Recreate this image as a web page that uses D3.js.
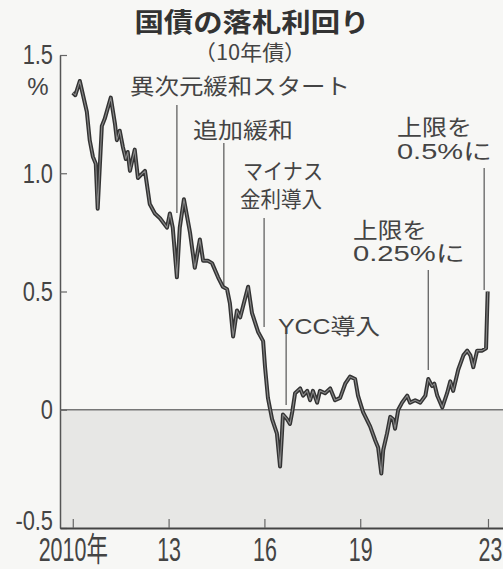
<!DOCTYPE html>
<html lang="ja">
<head>
<meta charset="utf-8">
<script src="https://cdn.jsdelivr.net/npm/d3@7"></script>
<style>
  html, body { margin: 0; padding: 0; background: #f7f7f5; }
  svg { display: block; }
</style>
</head>
<body>
<div id="chart"></div>
<script>
// 国債（10年債）の落札利回り - 読み取り値
const years = [2010.00, 2010.08, 2010.22, 2010.44, 2010.53, 2010.63, 2010.72, 2010.78, 2010.91, 2011.00,
  2011.19, 2011.32, 2011.38, 2011.47, 2011.57, 2011.66, 2011.72, 2011.79, 2011.94, 2012.04,
  2012.26, 2012.41, 2012.57, 2012.73, 2012.95, 2013.04, 2013.13, 2013.26, 2013.35, 2013.48,
  2013.67, 2013.82, 2013.98, 2014.08, 2014.23, 2014.36, 2014.55, 2014.70, 2014.83, 2014.92,
  2015.02, 2015.14, 2015.24, 2015.49, 2015.61, 2015.80, 2015.96, 2016.02, 2016.11, 2016.24,
  2016.39, 2016.49, 2016.55, 2016.58, 2016.71, 2016.80, 2016.87, 2016.96, 2017.12, 2017.21,
  2017.34, 2017.43, 2017.52, 2017.65, 2017.74, 2017.90, 2018.06, 2018.21, 2018.37, 2018.53,
  2018.68, 2018.84, 2018.93, 2019.09, 2019.31, 2019.47, 2019.56, 2019.66, 2019.72, 2019.84,
  2019.94, 2020.03, 2020.09, 2020.19, 2020.31, 2020.47, 2020.56, 2020.72, 2020.88, 2021.04,
  2021.13, 2021.25, 2021.32, 2021.41, 2021.57, 2021.72, 2021.82, 2021.91, 2022.07, 2022.23,
  2022.35, 2022.45, 2022.54, 2022.66, 2022.82, 2022.94, 2022.99];
const yields = [1.34, 1.33, 1.39, 1.26, 1.14, 1.07, 1.04, 0.85, 1.20, 1.23,
  1.32, 1.21, 1.14, 1.18, 1.11, 1.06, 1.09, 1.01, 1.10, 0.98,
  1.01, 0.87, 0.83, 0.81, 0.77, 0.83, 0.77, 0.56, 0.77, 0.89,
  0.75, 0.60, 0.72, 0.63, 0.63, 0.62, 0.56, 0.52, 0.51, 0.45,
  0.31, 0.42, 0.39, 0.52, 0.41, 0.33, 0.29, 0.18, 0.05, -0.04,
  -0.10, -0.24, -0.10, -0.02, -0.04, -0.06, -0.01, 0.07, 0.09, 0.06,
  0.08, 0.04, 0.08, 0.03, 0.08, 0.07, 0.09, 0.04, 0.05, 0.11,
  0.14, 0.13, 0.06, -0.01, -0.07, -0.13, -0.16, -0.27, -0.17, -0.10,
  -0.03, -0.04, -0.08, 0.00, 0.03, 0.06, 0.03, 0.04, 0.03, 0.06,
  0.13, 0.10, 0.11, 0.06, 0.01, 0.07, 0.12, 0.08, 0.17, 0.23,
  0.25, 0.23, 0.18, 0.25, 0.25, 0.26, 0.50];

const yTicks = [-0.5, 0, 0.5, 1.0, 1.5];
const yTickLabels = ['-0.5', '0', '0.5', '1.0', '1.5'];
const xTicks = [2010, 2013, 2016, 2019, 2023];
const xTickLabels = ['2010年', '13', '16', '19', '23'];

// 出来事
const eventNames = [['異次元緩和スタート'], ['追加緩和'], ['マイナス', '金利導入'], ['YCC導入'], ['上限を', '0.25%に'], ['上限を', '0.5%に']];
const eventDates = [2013.26, 2014.73, 2015.99, 2016.68, 2021.13, 2022.88];

// レイアウト（ピクセル）
const W = 503, H = 569;
const plot = { left: 60, right: 503, top: 55, bottom: 528 };
const eventLayout = [
  { y1: 105, y2: 213, tx: [130], ty: [86], tw: [220] },
  { y1: 143, y2: 287, tx: [193], ty: [130], tw: [100] },
  { y1: 218, y2: 327, tx: [243, 240], ty: [171, 199], tw: [80, 82] },
  { y1: 333, y2: 405, tx: [278], ty: [326], tw: [102] },
  { y1: 270, y2: 370, tx: [353, 353], ty: [230, 253], tw: [74, 112] },
  { y1: 168, y2: 290, tx: [397, 397], ty: [127, 151], tw: [75, 95] }
];

const ink = '#444';
const cjk = '"Noto Sans CJK JP", sans-serif';
const latin = '"Liberation Sans", "Noto Sans CJK JP", sans-serif';

const svg = d3.select('#chart')
  .append('svg')
  .attr('width', W)
  .attr('height', H);

// スケール
const x = d3.scaleLinear().domain([2009.6, 2023.47]).range([plot.left, plot.right]);
const y = d3.scaleLinear().domain([-0.5, 1.5]).range([plot.bottom, plot.top]);

// ゼロ以下の網掛け
svg.append('rect')
  .attr('x', plot.left)
  .attr('y', y(0))
  .attr('width', plot.right - plot.left)
  .attr('height', y(-0.5) - y(0))
  .attr('fill', '#e7e7e5');

// ゼロ線
svg.append('line')
  .attr('x1', plot.left).attr('x2', plot.right)
  .attr('y1', y(0)).attr('y2', y(0))
  .attr('stroke', '#777').attr('stroke-width', 1.4);

// y軸
const yAxis = svg.append('g')
  .attr('transform', `translate(${plot.left},0)`)
  .call(d3.axisLeft(y)
    .tickValues(yTicks)
    .tickSize(-7)
    .tickSizeOuter(0)
    .tickPadding(7)
    .tickFormat((d, i) => yTickLabels[i]));
yAxis.select('.domain').attr('stroke', '#555').attr('stroke-width', 1.5);
yAxis.selectAll('.tick line').attr('stroke', '#666').attr('stroke-width', 1.2);
yAxis.selectAll('.tick text')
  .attr('x', 0)
  .attr('fill', ink)
  .style('font-family', latin)
  .style('font-size', '28px')
  .attr('transform', d => `translate(-7,${d === -0.5 ? -7 : 0}) scale(0.78,1)`);

// 単位
svg.append('text')
  .attr('x', 38).attr('y', 95)
  .attr('text-anchor', 'middle')
  .attr('fill', ink)
  .style('font-family', latin)
  .style('font-size', '24px')
  .text('%');

// x軸
const xAxis = svg.append('g')
  .attr('transform', `translate(0,${plot.bottom})`)
  .call(d3.axisBottom(x)
    .tickValues(xTicks)
    .tickSize(-9)
    .tickSizeOuter(0)
    .tickPadding(10)
    .tickFormat((d, i) => xTickLabels[i]));
xAxis.select('.domain').attr('stroke', '#444').attr('stroke-width', 2);
xAxis.selectAll('.tick line').attr('stroke', '#666').attr('stroke-width', 1.2);
xAxis.selectAll('.tick text')
  .attr('fill', ink)
  .style('font-family', latin)
  .style('font-size', '33px')
  .attr('transform', d => `translate(${d === 2023 ? 2 : 0},0) scale(0.65,1)`);

// 出来事の引き出し線と注記
eventNames.forEach((lines, i) => {
  const L = eventLayout[i];
  svg.append('line')
    .attr('x1', x(eventDates[i])).attr('x2', x(eventDates[i]))
    .attr('y1', L.y1).attr('y2', L.y2)
    .attr('stroke', '#555').attr('stroke-width', 1.2);
  lines.forEach((t, j) => {
    svg.append('text')
      .attr('x', L.tx[j])
      .attr('y', L.ty[j] + 8)
      .attr('textLength', L.tw[j])
      .attr('lengthAdjust', 'spacingAndGlyphs')
      .attr('fill', ink)
      .style('font-family', latin)
      .style('font-size', '22px')
      .text(t);
  });
});

// 利回りの線（二重線で印刷風に）
const series = years.map((yr, i) => ({ yr, v: yields[i] }));
const line = d3.line().x(d => x(d.yr)).y(d => y(d.v));
svg.append('path')
  .datum(series)
  .attr('d', line)
  .attr('fill', 'none')
  .attr('stroke', '#333')
  .attr('stroke-width', 4)
  .attr('stroke-linejoin', 'round');
svg.append('path')
  .datum(series)
  .attr('d', line)
  .attr('fill', 'none')
  .attr('stroke', '#888')
  .attr('stroke-width', 1.1)
  .attr('stroke-linejoin', 'round');

// タイトル
svg.append('text')
  .attr('x', 252).attr('y', 32)
  .attr('text-anchor', 'middle')
  .attr('textLength', 235)
  .attr('lengthAdjust', 'spacingAndGlyphs')
  .attr('fill', '#333')
  .style('font-family', cjk)
  .style('font-size', '26px')
  .style('font-weight', 'bold')
  .text('国債の落札利回り');

svg.append('text')
  .attr('x', 250).attr('y', 60)
  .attr('text-anchor', 'middle')
  .attr('textLength', 112)
  .attr('lengthAdjust', 'spacingAndGlyphs')
  .attr('fill', ink)
  .style('font-family', cjk)
  .style('font-size', '21px')
  .text('（10年債）');
</script>
</body>
</html>
